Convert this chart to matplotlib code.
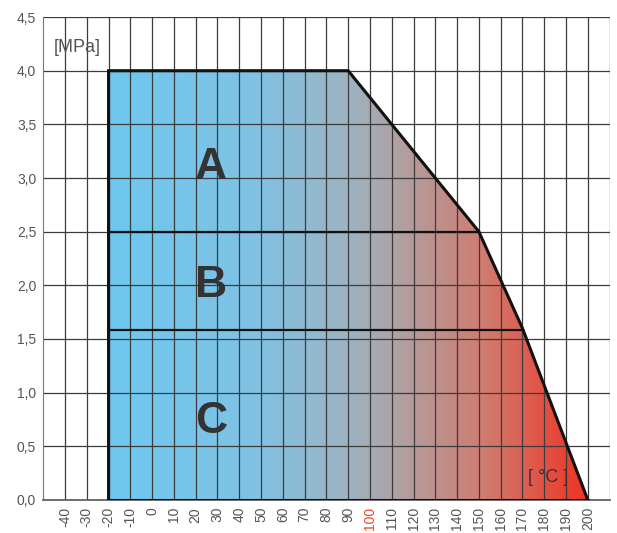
import numpy as np
import matplotlib
matplotlib.use("Agg")
import matplotlib.pyplot as plt
from matplotlib.colors import LinearSegmentedColormap
from matplotlib.patches import Polygon

plt.rcParams["font.family"] = ["Liberation Sans", "DejaVu Sans"]

# Operating envelope (temperature °C, pressure MPa)
boundary_t = [-20, -20, 90, 110, 150, 170, 200]
boundary_p = [0.0, 4.0, 4.0, 3.5, 2.5, 1.6, 0.0]

# Class limits
class_names = ["A", "B", "C"]
class_label_t = [27, 27, 27]
class_label_p = [3.10, 2.00, 0.73]
class_limits = [2.5, 1.58]

x_ticks = list(range(-40, 201, 10))
y_ticks = [0.0, 0.5, 1.0, 1.5, 2.0, 2.5, 3.0, 3.5, 4.0, 4.5]

GRID = "#3c3c3c"
TEXT = "#555555"

fig = plt.figure(figsize=(6.17, 5.33), dpi=100)
ax = fig.add_axes([0.070, 0.062, 0.918, 0.906])
ax.set_xlim(-50, 210)
ax.set_ylim(0, 4.5)

# gradient fill clipped to the envelope
cmap = LinearSegmentedColormap.from_list(
    "envelope",
    [(0.00, "#6ec8f0"), (0.30, "#80c2e4"), (0.50, "#9db3c2"),
     (0.60, "#b0a1a4"), (0.78, "#cf7c70"), (1.00, "#ef3324")])
grad = np.linspace(0, 1, 256).reshape(1, -1)
poly = Polygon(list(zip(boundary_t, boundary_p)), closed=True,
               facecolor="none", edgecolor="none")
ax.add_patch(poly)
im = ax.imshow(grad, extent=[min(boundary_t), max(boundary_t), 0, max(boundary_p)],
               cmap=cmap, aspect="auto", origin="lower", zorder=1)
im.set_clip_path(poly)

# grid
for xv in range(-40, 211, 10):
    ax.axvline(xv, color=GRID, lw=0.9, zorder=2)
for yv in y_ticks[1:]:
    ax.axhline(yv, color=GRID, lw=0.9, zorder=2)

# envelope outline and class limits
ax.plot(boundary_t, boundary_p, color="#111111", lw=2.2, zorder=4,
        solid_joinstyle="miter")
ax.plot([boundary_t[0], boundary_t[-1]], [0, 0], color="#111111", lw=2.2, zorder=4)
bt = np.array(boundary_t[1:])
bp = np.array(boundary_p[1:])
for lim in class_limits:
    t_end = np.interp(lim, bp[::-1], bt[::-1])
    ax.plot([-20, t_end], [lim, lim], color="#111111", lw=1.6, zorder=4)

for name, t, p in zip(class_names, class_label_t, class_label_p):
    ax.text(t, p, name, fontsize=32, fontweight="bold", color="#333333",
            ha="center", va="center", zorder=5)

ax.text(-45, 4.22, "[MPa]", fontsize=13, color=TEXT, ha="left", va="center")
ax.text(182, 0.21, "[ °C ]", fontsize=13, color="#333333", ha="center", va="center",
        zorder=5)

for s in ["top", "right"]:
    ax.spines[s].set_visible(False)
ax.spines["left"].set_color("#777777")
ax.spines["bottom"].set_color("#555555")
ax.spines["bottom"].set_linewidth(1.2)

ax.set_xticks(x_ticks)
ax.set_xticklabels([str(v) for v in x_ticks], rotation=90, fontsize=10, color=TEXT)
ax.set_yticks(y_ticks)
ax.set_yticklabels([f"{v:.1f}".replace(".", ",") for v in y_ticks], fontsize=10, color=TEXT)
ax.tick_params(length=0, pad=5)
for lbl in ax.get_xticklabels():
    if lbl.get_text() == "100":
        lbl.set_color("#e8442f")

fig.savefig("out.png", dpi=100, facecolor="white")
